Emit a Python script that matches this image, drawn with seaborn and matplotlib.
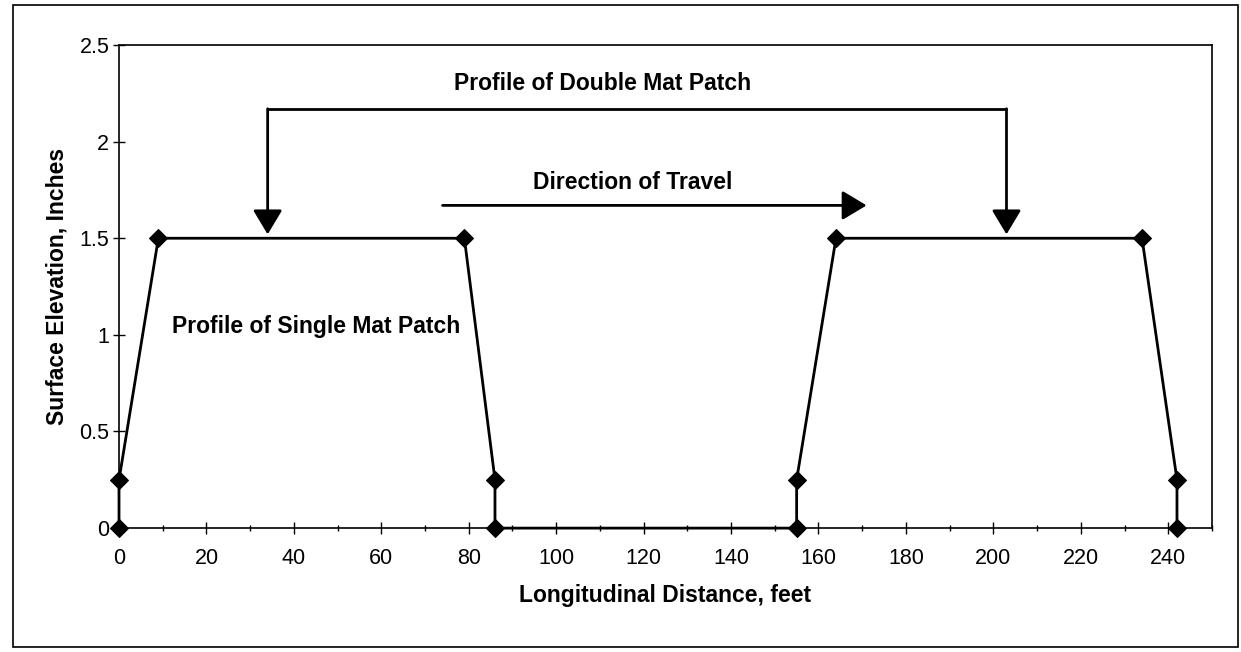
import pandas as pd
import matplotlib.pyplot as plt
import matplotlib.patches as patches
from matplotlib.ticker import MultipleLocator, FormatStrFormatter
import seaborn as sns

# --- Data: mat patch profile ---
distance_ft = [0, 0, 9, 79, 86, 86, 155, 155, 164, 234, 242, 242]
elevation_in = [0, 0.25, 1.5, 1.5, 0.25, 0, 0, 0.25, 1.5, 1.5, 0.25, 0]

# annotation anchors (data units)
bracket_x = [34, 203]
bracket_top = 2.17
bracket_tip = 1.52
travel_x = [74, 171]
travel_y = 1.67

df = pd.DataFrame({'distance': distance_ft, 'elevation': elevation_in})

sns.set_theme(style='white')
plt.rcParams['font.family'] = ['Liberation Sans', 'DejaVu Sans']
plt.rcParams['text.color'] = 'black'
plt.rcParams['axes.labelcolor'] = 'black'
plt.rcParams['xtick.color'] = 'black'
plt.rcParams['ytick.color'] = 'black'

fig = plt.figure(figsize=(12.41, 6.52), dpi=100)
ax = fig.add_axes([0.0959, 0.19, 0.8807, 0.741])

sns.lineplot(x='distance', y='elevation', data=df, sort=False, estimator=None,
             color='black', linewidth=2, marker='D', markersize=9,
             markeredgecolor='black', markerfacecolor='black', clip_on=False,
             zorder=5, ax=ax)

ax.set_xlim(0, 250)
ax.set_ylim(0, 2.5)
ax.xaxis.set_minor_locator(MultipleLocator(10))
ax.yaxis.set_major_locator(MultipleLocator(0.5))
ax.yaxis.set_major_formatter(FormatStrFormatter('%g'))
ax.set_xticks([t for t in range(0, 241, 20)])

ax.tick_params(axis='x', which='major', direction='inout', length=8, width=1,
               labelsize=15.5, pad=10, bottom=True)
ax.tick_params(axis='x', which='minor', direction='inout', length=5, width=1, bottom=True)
ax.tick_params(axis='y', which='major', direction='inout', length=8, width=1,
               labelsize=15.5, pad=3, left=True)
for s in ax.spines.values():
    s.set_color('black')
    s.set_linewidth(1.2)

ax.set_xlabel('Longitudinal Distance, feet', fontsize=16.5, fontweight='bold', labelpad=11)
ax.set_ylabel('Surface Elevation, Inches', fontsize=16.5, fontweight='bold', labelpad=8)

# --- Annotations ---
arrow = dict(arrowstyle='-|>,head_length=0.75,head_width=0.45', color='black',
             lw=2, shrinkA=0, shrinkB=0, mutation_scale=20)
ax.plot([bracket_x[0], bracket_x[1]], [bracket_top, bracket_top], color='black', lw=2)
for bx in bracket_x:
    ax.annotate('', xy=(bx, bracket_tip), xytext=(bx, bracket_top), arrowprops=arrow)
ax.annotate('', xy=(travel_x[1], travel_y), xytext=(travel_x[0], travel_y), arrowprops=arrow)

ax.text(110.5, 2.30, 'Profile of Double Mat Patch', fontsize=16.5, fontweight='bold',
        ha='center', va='center')
ax.text(117.5, 1.79, 'Direction of Travel', fontsize=16.5, fontweight='bold',
        ha='center', va='center')
ax.text(45, 1.045, 'Profile of Single Mat Patch', fontsize=16.5, fontweight='bold',
        ha='center', va='center')

# outer frame
fig.patches.append(patches.Rectangle((0.0105, 0.008), 0.987, 0.984, transform=fig.transFigure,
                                     fill=False, edgecolor='black', linewidth=1.2))

plt.savefig('out.png', dpi=100)
plt.close()
